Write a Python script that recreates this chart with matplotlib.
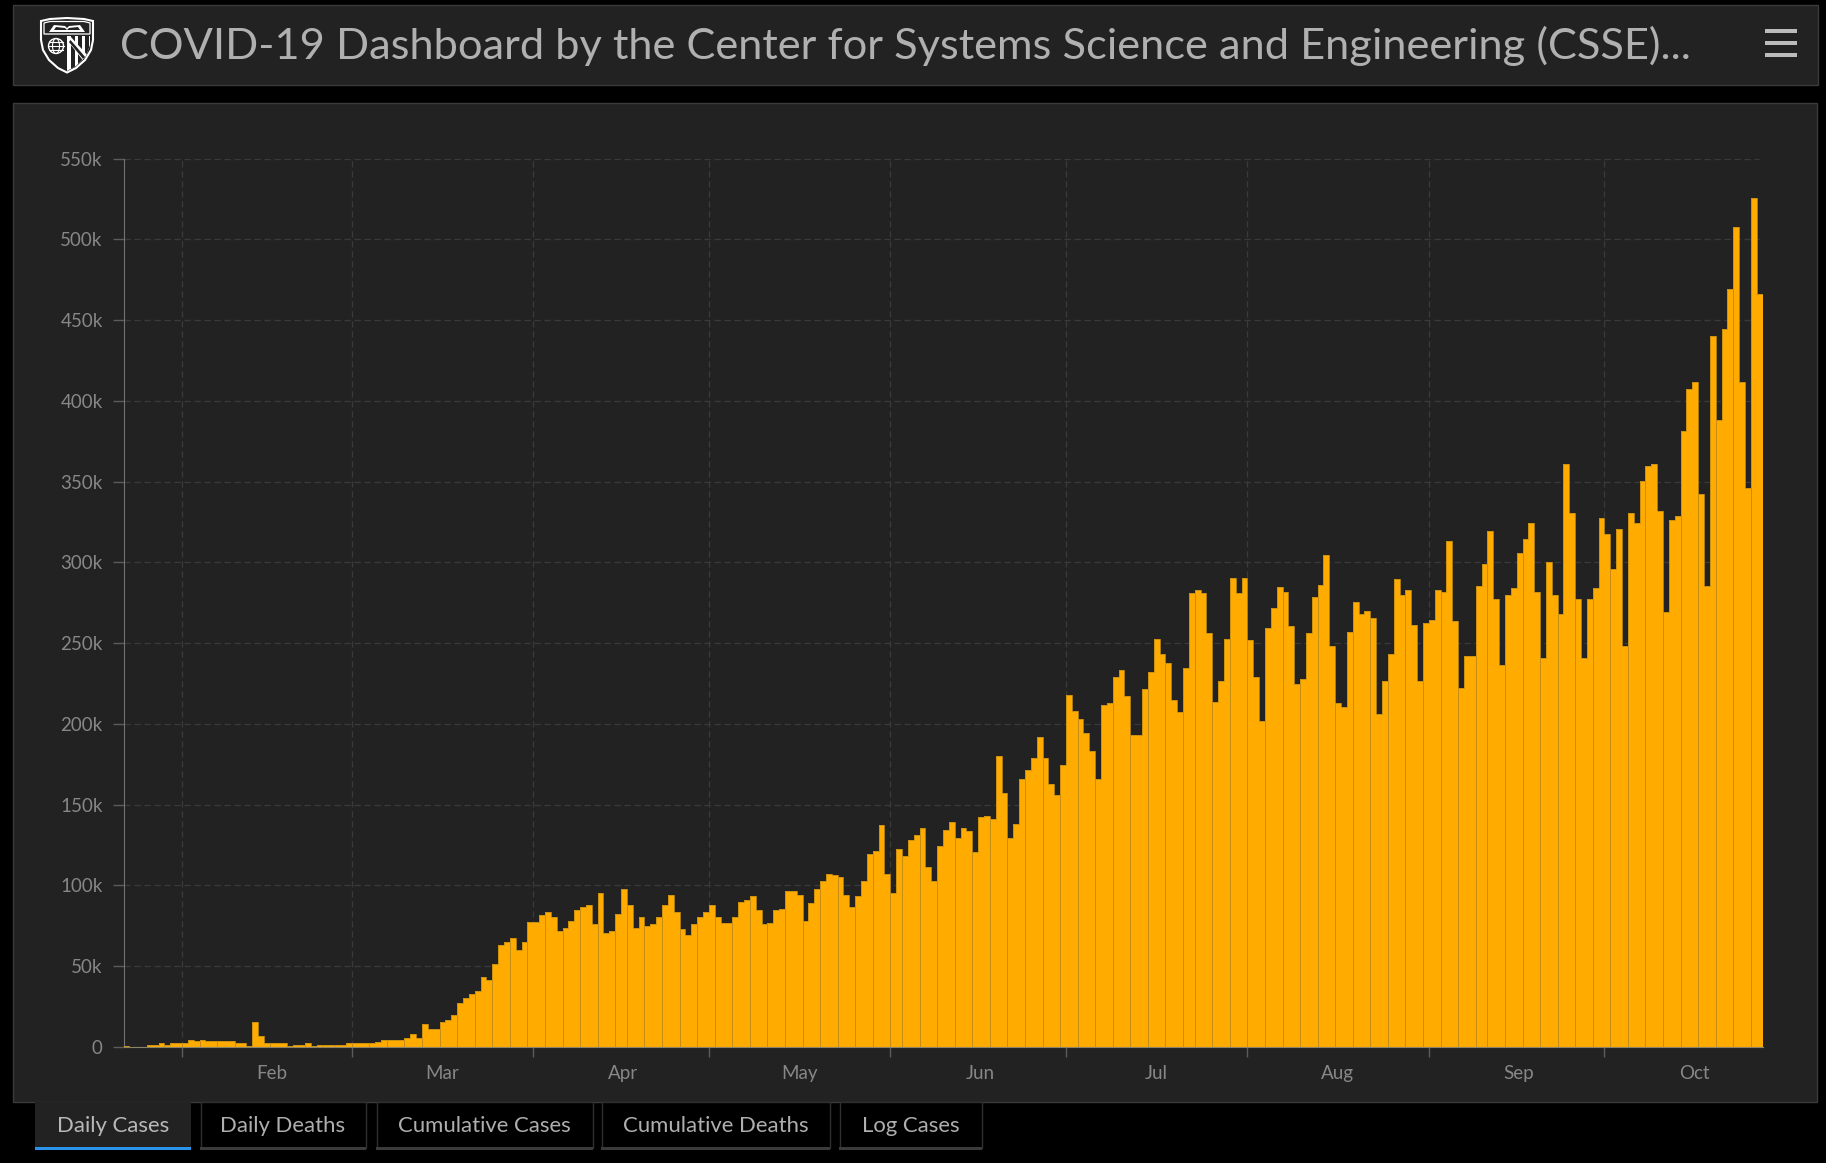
#!/usr/bin/env python
# -*- coding: utf-8 -*-
import matplotlib
matplotlib.use('Agg')
import matplotlib.pyplot as plt
import matplotlib.dates as mdates
from matplotlib.patches import Rectangle, Polygon, Circle, Ellipse
import numpy as np
import pandas as pd

# daily new cases in thousands, one value per day starting 22 Jan 2020
daily_jan_feb = [0.5, 0.1, 0.3, 0.2, 1.2, 1.2, 2.5, 1.4, 2.5, 2.5,
                 2.5, 4.5, 3.5, 4.5, 3.5, 3.5, 3.5, 3.5, 3.5, 2.5,
                 2.5, 0.4, 15.5, 6.8, 2.5, 2.5, 2.5, 2.5, 0.5, 1.4,
                 1.4, 2.5, 0.5, 1.4, 1.4, 1.4, 1.4, 1.4, 2.5, 2.5,
                 2.5, 2.5]
daily_mar_apr = [2.3, 3.3, 4.5, 4.5, 4.5, 4.5, 5.6, 7.8, 5.6, 14.2,
                 10.9, 10.9, 15.3, 16.5, 19.6, 27.3, 30.5, 32.6, 34.9, 43.6,
                 41.5, 51.2, 63.2, 65.2, 67.5, 59.9, 65.2, 77.2, 77.2, 81.5,
                 83.8, 80.5, 71.8, 73.9, 78.2, 84.9, 86.9, 87.9, 76.2, 95.6,
                 70.7, 71.8, 82.6, 97.7, 88.0, 73.9, 80.3, 74.9, 76.0, 80.3,
                 88.0, 94.4, 83.6, 73.3, 69.6, 76.0, 80.3, 83.6, 88.0, 80.3]
daily_may_jun = [77.0, 77.0, 80.3, 90.0, 91.0, 93.3, 84.7, 76.0, 77.0, 84.7,
                 85.7, 96.6, 96.6, 94.4, 78.3, 89.0, 97.7, 103.0, 107.4, 106.3,
                 105.3, 94.4, 86.7, 93.3, 103.0, 119.3, 121.4, 137.7, 107.4, 95.6,
                 122.6, 118.3, 128.0, 131.3, 135.7, 111.7, 103.0, 124.7, 134.4, 139.0,
                 129.2, 135.6, 133.6, 120.6, 142.3, 143.3, 141.0, 180.2, 157.3, 129.2,
                 138.0, 166.0, 171.4, 179.0, 192.0, 179.0, 162.7, 156.3, 174.7, 218.0]
daily_jul_aug = [208.3, 203.0, 194.3, 183.3, 166.0, 211.6, 212.7, 229.0, 233.3, 217.0,
                 193.3, 193.3, 221.3, 232.3, 252.7, 243.0, 237.6, 214.9, 207.3, 234.3,
                 280.8, 283.0, 280.8, 256.0, 213.7, 226.7, 252.7, 290.5, 280.8, 290.5,
                 251.7, 229.0, 202.0, 259.3, 272.0, 285.0, 281.8, 260.4, 224.6, 228.0,
                 256.0, 278.5, 286.0, 304.5, 248.4, 212.7, 210.6, 257.0, 275.4, 267.8,
                 269.9, 265.7, 206.3, 226.7, 243.0, 289.5, 279.6, 283.0, 261.4, 226.7,
                 262.4]
daily_sep_oct = [264.6, 282.9, 281.8, 313.2, 263.4, 222.5, 241.8, 241.8, 285.1, 299.2,
                 319.6, 277.5, 236.4, 279.8, 284.1, 305.8, 314.2, 324.2, 281.8, 240.7,
                 300.2, 279.8, 268.0, 360.9, 330.6, 277.5, 240.7, 277.5, 284.1, 327.3,
                 317.6, 295.9, 320.9, 248.4, 330.6, 324.2, 350.2, 359.9, 360.9, 331.6,
                 269.0, 326.2, 328.5, 381.6, 407.6, 411.9, 342.5, 285.1, 440.2, 388.2,
                 444.5, 469.5, 507.3, 411.9, 345.8, 525.7, 466.2]
daily_k = daily_jan_feb + daily_mar_apr + daily_may_jun + daily_jul_aug + daily_sep_oct

month_ticks = ['2020-02-01', '2020-03-01', '2020-04-01', '2020-05-01', '2020-06-01',
               '2020-07-01', '2020-08-01', '2020-09-01', '2020-10-01']
month_names = ['Feb', 'Mar', 'Apr', 'May', 'Jun', 'Jul', 'Aug', 'Sep', 'Oct']
y_ticks = [0, 50, 100, 150, 200, 250, 300, 350, 400, 450, 500, 550]
y_labels = ['0'] + ['%dk' % v for v in y_ticks[1:]]
tab_names = ['Daily Cases', 'Daily Deaths', 'Cumulative Cases', 'Cumulative Deaths', 'Log Cases']
tab_edges = [(35, 191), (200, 366), (376, 593), (601, 830), (839, 982)]
title = 'COVID-19 Dashboard by the Center for Systems Science and Engineering (CSSE)...'

W, H = 1826, 1163
PANEL = '#222222'
BORDER = '#3b3b3b'
BAR = '#ffab00'
SEAM = '#c48d14'
plt.rcParams['font.family'] = ['Lato', 'DejaVu Sans']

fig = plt.figure(figsize=(W / 100, H / 100), dpi=100, facecolor='black')

# page furniture is drawn on a full size axes in pixel coordinates
bg = fig.add_axes([0, 0, 1, 1])
bg.set_xlim(0, W)
bg.set_ylim(H, 0)
bg.axis('off')
bg.add_patch(Rectangle((13, 5), 1804.5, 79.5, fc=PANEL, ec=BORDER, lw=1))
bg.add_patch(Rectangle((13, 103), 1803.5, 999, fc=PANEL, ec=BORDER, lw=1))
bg.text(120, 46, title, color='#b0b0b0', fontsize=31.25, va='center', ha='left')

for y in [31, 43, 55]:
    bg.add_patch(Rectangle((1765, y - 2), 32, 4, fc='#bcbcbc', ec='none'))

# JHU shield
shield = [(41, 21), (50, 19), (67, 18), (84, 19), (93, 21), (93, 40), (91, 50), (85, 60),
          (76, 68), (67, 72.5), (58, 68), (49, 60), (43, 50), (41, 40)]
bg.add_patch(Polygon(shield, closed=True, fc=PANEL, ec='white', lw=1.5))
bg.add_patch(Polygon([(44, 34), (90, 34), (90, 23), (84, 21.5), (50, 21.5), (44, 23)], closed=True,
                     fc='none', ec='white', lw=0.9))
bg.add_patch(Polygon([(49, 32), (54, 25), (65, 26), (67, 28), (69, 26), (80, 25), (85, 32)],
                     closed=True, fc='white', ec='none'))
bg.add_patch(Polygon([(54, 30), (56, 27), (65, 28), (67, 30)], closed=True, fc=PANEL, ec='none'))
bg.add_patch(Polygon([(67, 30), (69, 28), (78, 27), (80, 30)], closed=True, fc=PANEL, ec='none'))
bg.add_patch(Circle((56, 46), 7.5, fc='none', ec='white', lw=1))
bg.add_patch(Ellipse((56, 46), 7, 15, fc='none', ec='white', lw=0.8))
bg.plot([48.5, 63.5], [46, 46], color='white', lw=0.8)
bg.plot([49.5, 62.5], [42, 42], color='white', lw=0.8)
bg.plot([49.5, 62.5], [50, 50], color='white', lw=0.8)
# quartered arms on the right side of the shield
arms = Polygon([(67, 36), (90, 36), (90, 45), (86, 56), (76, 66), (67, 71)], closed=True,
               fc='white', ec='none')
bg.add_patch(arms)
for x0 in [71, 78, 85]:
    stripe = Rectangle((x0, 36), 3.5, 36, fc=PANEL, ec='none')
    bg.add_patch(stripe)
    stripe.set_clip_path(arms)
band = Polygon([(67, 40), (70, 36), (90, 58), (85, 63)], closed=True, fc='white', ec='none')
bg.add_patch(band)
band.set_clip_path(arms)
inner = Polygon([(69, 42), (70.5, 40), (86, 58), (84, 60)], closed=True, fc=PANEL, ec='none')
bg.add_patch(inner)
inner.set_clip_path(arms)

# tabs under the chart panel
for i, name in enumerate(tab_names):
    x0, x1 = tab_edges[i]
    if i == 0:
        bg.add_patch(Rectangle((x0, 1102), x1 - x0, 48, fc=PANEL, ec='none', zorder=3))
        bg.add_patch(Rectangle((x0, 1147), x1 - x0, 3, fc='#2b93ea', ec='none', zorder=4))
        color = '#b8b8b8'
    else:
        bg.add_patch(Rectangle((x0 + 0.5, 1102), x1 - x0 - 1, 46, fc='black', ec='#2f2f2f', lw=1, zorder=3))
        bg.add_patch(Rectangle((x0, 1147), x1 - x0, 3, fc=BORDER, ec='none', zorder=4))
        color = '#aeaeae'
    bg.text((x0 + x1) / 2, 1126, name, color=color, fontsize=15.9,
            ha='center', va='center', zorder=5)

# the chart itself
left, right, top, bottom = 123.5, 1762.5, 158.5, 1047
ax = fig.add_axes([left / W, 1 - bottom / H, (right - left) / W, (bottom - top) / H])
ax.patch.set_alpha(0)

days = pd.date_range('2020-01-22', periods=len(daily_k), freq='D')
values = np.array(daily_k) * 1000
ax.bar(days, values, width=1, align='edge', color=BAR, linewidth=0, zorder=3)

# bar outline, and the darker seam the original shows about every third bar
edges = mdates.date2num(days)
edges = np.append(edges, edges[-1] + 1)
ax.stairs(values, edges, color=SEAM, linewidth=0.6, zorder=4)
seam_idx = np.round(np.arange(1.2, len(values), 2.94)).astype(int)
seam_x = edges[seam_idx]
seam_top = np.minimum(values[seam_idx - 1], values[seam_idx])
ax.vlines(seam_x, 0, seam_top, color=SEAM, linewidth=0.7, zorder=4)

ax.set_xlim(days[0], days[-1] + pd.Timedelta(days=1))
ax.set_ylim(0, 550000)

ax.set_yticks([v * 1000 for v in y_ticks])
ax.set_yticklabels(y_labels)
ax.set_xticks(pd.to_datetime(month_ticks))
ax.set_xticklabels([''] * len(month_ticks))
ax.set_xticks(pd.to_datetime(month_ticks) + pd.Timedelta(days=15.4), minor=True)
ax.set_xticklabels(month_names, minor=True)

ax.grid(True, which='major', color='#3a3a3a', linestyle=(0, (5, 3)), linewidth=0.9, zorder=1)
for line in ax.get_ygridlines():
    line.set_xdata([0, 0.998])
ax.tick_params(axis='y', which='major', length=8, width=1, color='#5c5c5c', labelcolor='#878787',
               labelsize=13.5, pad=7)
ax.tick_params(axis='x', which='major', length=7, width=1, color='#5c5c5c')
ax.tick_params(axis='x', which='minor', length=0, labelcolor='#878787', labelsize=13.5, pad=13)

for side in ['top', 'right']:
    ax.spines[side].set_visible(False)
ax.spines['left'].set_color('#737373')
ax.spines['bottom'].set_color('#8c8468')
ax.spines['bottom'].set_zorder(5)

fig.savefig('out.png', dpi=100, facecolor='black')
